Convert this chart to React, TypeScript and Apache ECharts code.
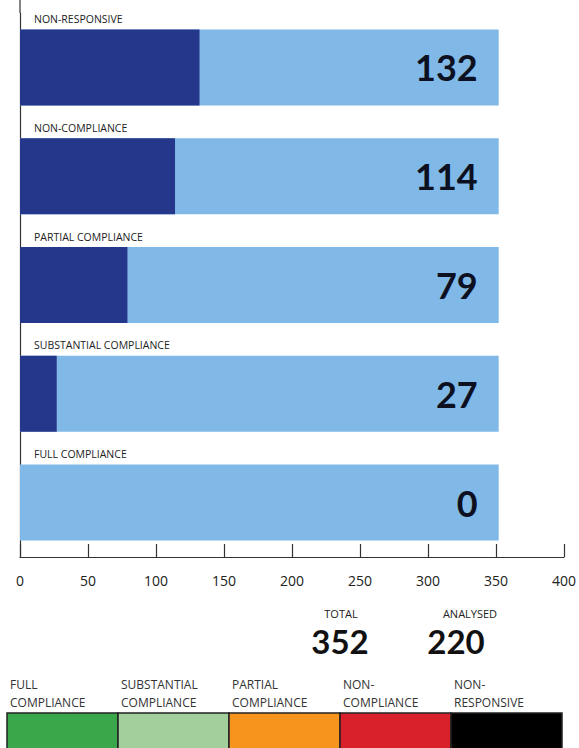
import React, { useEffect, useRef } from "react";
import * as echarts from "echarts";

const categories = [
  "NON-RESPONSIVE",
  "NON-COMPLIANCE",
  "PARTIAL COMPLIANCE",
  "SUBSTANTIAL COMPLIANCE",
  "FULL COMPLIANCE",
];
const values = [132, 114, 79, 27, 0];
const total = 352;
const analysed = 220;
const xTicks = [0, 50, 100, 150, 200, 250, 300, 350, 400];
const legendItems = [
  ["FULL", "COMPLIANCE"],
  ["SUBSTANTIAL", "COMPLIANCE"],
  ["PARTIAL", "COMPLIANCE"],
  ["NON-", "COMPLIANCE"],
  ["NON-", "RESPONSIVE"],
];
const legendColors = ["#3aa84a", "#a3cf9c", "#f7941d", "#d8212b", "#000000"];

const FONT = "'Open Sans', 'DejaVu Sans', sans-serif";
const NUMFONT = "Lato, 'Open Sans', sans-serif";

export default function App() {
  const ref = useRef<HTMLDivElement>(null);
  useEffect(() => {
    document.body.style.margin = "0";
    const chart = echarts.init(ref.current!, null, { renderer: "svg" });
    const left = 20;
    const plotW = 544;
    const legendX = 7;
    const boxW = 111;
    const graphics: any[] = [
      {
        type: "line",
        shape: { x1: left, y1: 0, x2: left, y2: 13 },
        style: { stroke: "#333", lineWidth: 1.2 },
      },
      {
        type: "text",
        x: 341, y: 613,
        style: { text: "TOTAL", font: `11px ${FONT}`, fill: "#222", textAlign: "center", textVerticalAlign: "middle" },
      },
      {
        type: "text",
        x: 340, y: 641,
        style: { text: String(total), font: `bold 33px ${NUMFONT}`, fill: "#111", textAlign: "center", textVerticalAlign: "middle" },
      },
      {
        type: "text",
        x: 470, y: 613,
        style: { text: "ANALYSED", font: `11px ${FONT}`, fill: "#222", textAlign: "center", textVerticalAlign: "middle" },
      },
      {
        type: "text",
        x: 456, y: 641,
        style: { text: String(analysed), font: `bold 33px ${NUMFONT}`, fill: "#111", textAlign: "center", textVerticalAlign: "middle" },
      },
    ];
    legendItems.forEach((lines, i) => {
      const x = legendX + i * boxW;
      graphics.push({
        type: "rect",
        shape: { x, y: 713, width: boxW, height: 60 },
        style: { fill: legendColors[i], stroke: "#222", lineWidth: 1.5 },
      });
      lines.forEach((t, j) => {
        graphics.push({
          type: "text",
          x: x + 3, y: 684 + j * 18,
          style: { text: t, font: `12px ${FONT}`, fill: "#333", textVerticalAlign: "middle" },
        });
      });
    });
    chart.setOption({
      animation: false,
      grid: { left, top: 13, width: plotW, height: 544 },
      xAxis: {
        type: "value",
        min: 0,
        max: 400,
        interval: 50,
        axisLine: { show: true, lineStyle: { color: "#333", width: 1.2 } },
        axisTick: { show: true, inside: true, length: 13, lineStyle: { color: "#333", width: 1.2 } },
        splitLine: { show: false },
        axisLabel: {
          color: "#222",
          fontSize: 14,
          fontFamily: FONT,
          margin: 16,
          formatter: (v: number) => (xTicks.includes(v) ? String(v) : ""),
        },
      },
      yAxis: {
        type: "category",
        data: categories,
        inverse: true,
        axisLine: { show: true, lineStyle: { color: "#333", width: 1.2 } },
        axisTick: { show: false },
        axisLabel: { show: false },
      },
      series: [
        {
          type: "bar",
          data: categories.map(() => total),
          barWidth: 76,
          itemStyle: { color: "#80b9e7" },
          z: 1,
          label: {
            show: true,
            position: "insideRight",
            distance: 21,
            formatter: (p: any) => String(values[p.dataIndex]),
            fontSize: 36,
            fontWeight: "bold",
            fontFamily: NUMFONT,
            color: "#0d1020",
          },
        },
        {
          type: "bar",
          data: values,
          barWidth: 76,
          barGap: "-100%",
          itemStyle: { color: "#25378a" },
          z: 2,
          label: {
            show: true,
            position: [14, -16],
            formatter: (p: any) => categories[p.dataIndex],
            fontSize: 10.5,
            fontFamily: FONT,
            color: "#222",
          },
        },
      ],
      graphic: graphics,
    });
    return () => chart.dispose();
  }, []);
  return <div ref={ref} style={{ width: 579, height: 748 }} />;
}
